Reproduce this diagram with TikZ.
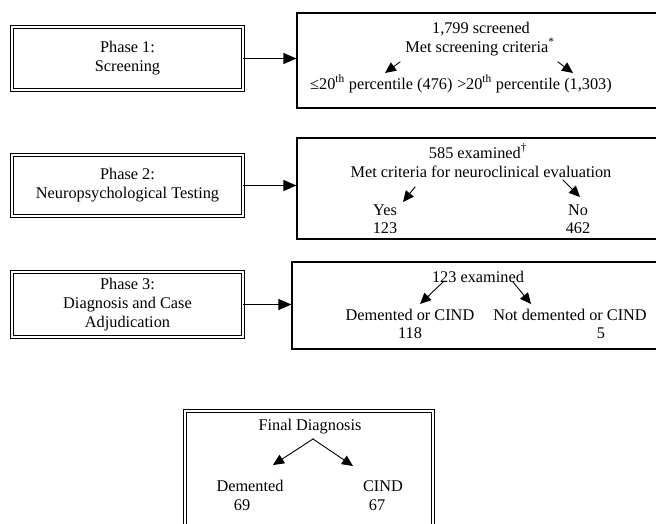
\documentclass[tikz,border=0pt]{standalone}
\usepackage{fontspec}
\setmainfont{Liberation Serif}
\usetikzlibrary{arrows.meta}

\tikzset{
  phasebox/.style={draw, double, double distance=2pt, line width=0.9pt, align=center, minimum width=231pt, inner sep=0pt},
  countbox/.style={draw, line width=1.2pt},
  txt/.style={inner sep=0pt, anchor=base},
  split/.style={-{Triangle[length=11pt,width=10pt]}, line width=0.9pt},
  feed/.style={-{Triangle[length=13pt,width=11pt]}, line width=1.2pt}
}

\begin{document}
\begin{tikzpicture}[x=1pt, y=-1pt, font=\fontsize{16.3}{19}\selectfont, line cap=rect]
  \useasboundingbox (0,0) rectangle (656,523);
  % phase 1: screening
  \node[phasebox, minimum height=63.4pt] (ph1) at (127.5,58.5) {Phase 1:\\Screening};
  \node[countbox, minimum width=423pt, minimum height=95pt] (box1) at (508.5,60.5) {};
  \draw[feed] (ph1.east) -- (ph1.east -| box1.west);
  \node[txt] (scr) at (481,33) {1,799 screened};
  \node[txt] (met) at (480,52) {Met screening criteria\textsuperscript{*}};
  \node[txt, anchor=base west] (low) at (310,89) {≤20\textsuperscript{th} percentile (476)};
  \node[txt, anchor=base east] (high) at (612,89) {>20\textsuperscript{th} percentile (1,303)};
  \coordinate (lowtail) at (400,62);
  \coordinate (lowhead) at (385,73);
  \coordinate (hightail) at (558,62);
  \coordinate (highhead) at (573,73);
  \draw[split] (lowtail) -- (lowhead);
  \draw[split] (hightail) -- (highhead);
  % phase 2: testing
  \node[phasebox, minimum height=61.4pt] (ph2) at (127.5,185.5) {Phase 2:\\Neuropsychological Testing};
  \node[countbox, minimum width=423pt, minimum height=101pt] (box2) at (508.5,188.5) {};
  \draw[feed] (ph2.east) -- (ph2.east -| box2.west);
  \node[txt] (exam) at (478,158) {585 examined\textsuperscript{\dag}};
  \node[txt] (crit) at (481,177) {Met criteria for neuroclinical evaluation};
  \node[txt] (yes) at (385,215) {Yes};
  \node[txt] (yesnum) at (385,233) {123};
  \node[txt] (no) at (578,215) {No};
  \node[txt] (nonum) at (578,233) {462};
  \coordinate (yestail) at (415,187);
  \coordinate (yeshead) at (403,202);
  \coordinate (notail) at (563,180);
  \coordinate (nohead) at (580,197);
  \draw[split] (yestail) -- (yeshead);
  \draw[split] (notail) -- (nohead);
  % phase 3: adjudication
  \node[phasebox, minimum height=65.4pt] (ph3) at (127.5,304.5) {Phase 3:\\Diagnosis and Case\\Adjudication};
  \node[countbox, minimum width=428pt, minimum height=87pt] (box3) at (506,305.5) {};
  \draw[feed] (ph3.east) -- (ph3.east -| box3.west);
  \node[txt] (adj) at (478,282) {123 examined};
  \node[txt] (dem) at (410,320) {Demented or CIND};
  \node[txt] (demnum) at (410,338) {118};
  \node[txt] (notdem) at (570,320) {Not demented or CIND};
  \node[txt] (notdemnum) at (601,338) {5};
  \coordinate (demtail) at (443,282);
  \coordinate (demhead) at (420,304);
  \coordinate (notdemtail) at (513,282);
  \coordinate (notdemhead) at (531,304);
  \draw[split] (demtail) -- (demhead);
  \draw[split] (notdemtail) -- (notdemhead);
  % final diagnosis, cut by the page edge
  \node[phasebox, minimum width=248.4pt, minimum height=149.2pt] (final) at (309,485.4) {};
  \node[txt] (fin) at (310,430) {Final Diagnosis};
  \node[txt] (dementia) at (250,491) {Demented};
  \node[txt] (dementianum) at (242,510) {69};
  \node[txt] (cind) at (383,491) {CIND};
  \node[txt] (cindnum) at (377,510) {67};
  \coordinate (apex) at (313,439);
  \coordinate (dementiahead) at (273,465);
  \coordinate (cindhead) at (353,466);
  \draw[split] (apex) -- (dementiahead);
  \draw[split] (apex) -- (cindhead);
\end{tikzpicture}
\end{document}
